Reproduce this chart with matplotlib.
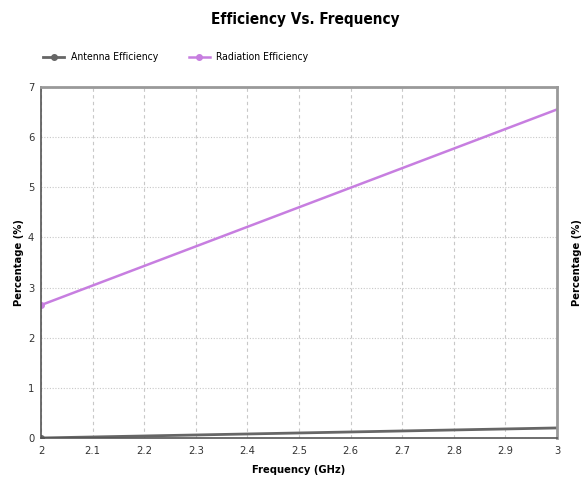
import matplotlib
matplotlib.use("Agg")
from matplotlib import pyplot as plt

freq = [2.0, 2.1, 2.2, 2.3, 2.4, 2.5, 2.6, 2.7, 2.8, 2.9, 3.0]
antenna_eff = [0.0, 0.02, 0.04, 0.06, 0.08, 0.10, 0.12, 0.14, 0.16, 0.18, 0.20]
radiation_eff = [2.65, 3.04, 3.43, 3.82, 4.21, 4.60, 4.99, 5.38, 5.77, 6.16, 6.55]
xticks = [2, 2.1, 2.2, 2.3, 2.4, 2.5, 2.6, 2.7, 2.8, 2.9, 3]
xtick_labels = ["2", "2.1", "2.2", "2.3", "2.4", "2.5", "2.6", "2.7", "2.8", "2.9", "3"]
yticks = [0, 1, 2, 3, 4, 5, 6, 7]

plt.rcParams["font.family"] = ["DejaVu Sans"]
plt.rcParams["font.stretch"] = "condensed"

fig = plt.figure(figsize=(5.87, 4.88), dpi=100)
ax = fig.add_axes([0.070, 0.1025, 0.879, 0.7195])

ax.plot(freq, antenna_eff, color="#666666", lw=2.0, marker="o", ms=4,
        markevery=[0], label="Antenna Efficiency")
ax.plot(freq, radiation_eff, color="#c77ee0", lw=1.8, marker="o", ms=4,
        markevery=[0], label="Radiation Efficiency")

ax.set_xlim(2, 3)
ax.set_ylim(0, 7)
ax.set_xticks(xticks)
ax.set_xticklabels(xtick_labels)
ax.set_yticks(yticks)
ax.tick_params(labelsize=8, length=0, pad=6, colors="#333333")
ax.tick_params(axis="y", right=True, labelright=True, pad=5)

ax.grid(axis="x", linestyle=(0, (3, 3)), color="#c8c8c8", lw=0.8)
ax.grid(axis="y", linestyle=(0, (1, 1.5)), color="#c8c8c8", lw=0.8)

for side in ["left", "bottom"]:
    ax.spines[side].set_color("#555555")
    ax.spines[side].set_linewidth(1.2)
for side in ["top", "right"]:
    ax.spines[side].set_color("#999999")
    ax.spines[side].set_linewidth(2)

ax.set_xlabel("Frequency (GHz)", fontsize=8, fontweight="bold", labelpad=6)
ax.set_ylabel("Percentage (%)", fontsize=8, fontweight="bold", labelpad=3)
ax2 = ax.twinx()
ax2.set_ylim(0, 7)
ax2.set_yticks([])
for s in ax2.spines.values():
    s.set_visible(False)
ax2.set_ylabel("Percentage (%)", fontsize=8, fontweight="bold", labelpad=11)

fig.suptitle("Efficiency Vs. Frequency", x=0.52, y=0.975, fontsize=11, fontweight="bold")
fig.legend(loc="upper left", bbox_to_anchor=(0.058, 0.912), ncol=2, frameon=False,
           fontsize=7.5, handlelength=2.0, handletextpad=0.6, columnspacing=3)

fig.savefig("out.png", dpi=100)
